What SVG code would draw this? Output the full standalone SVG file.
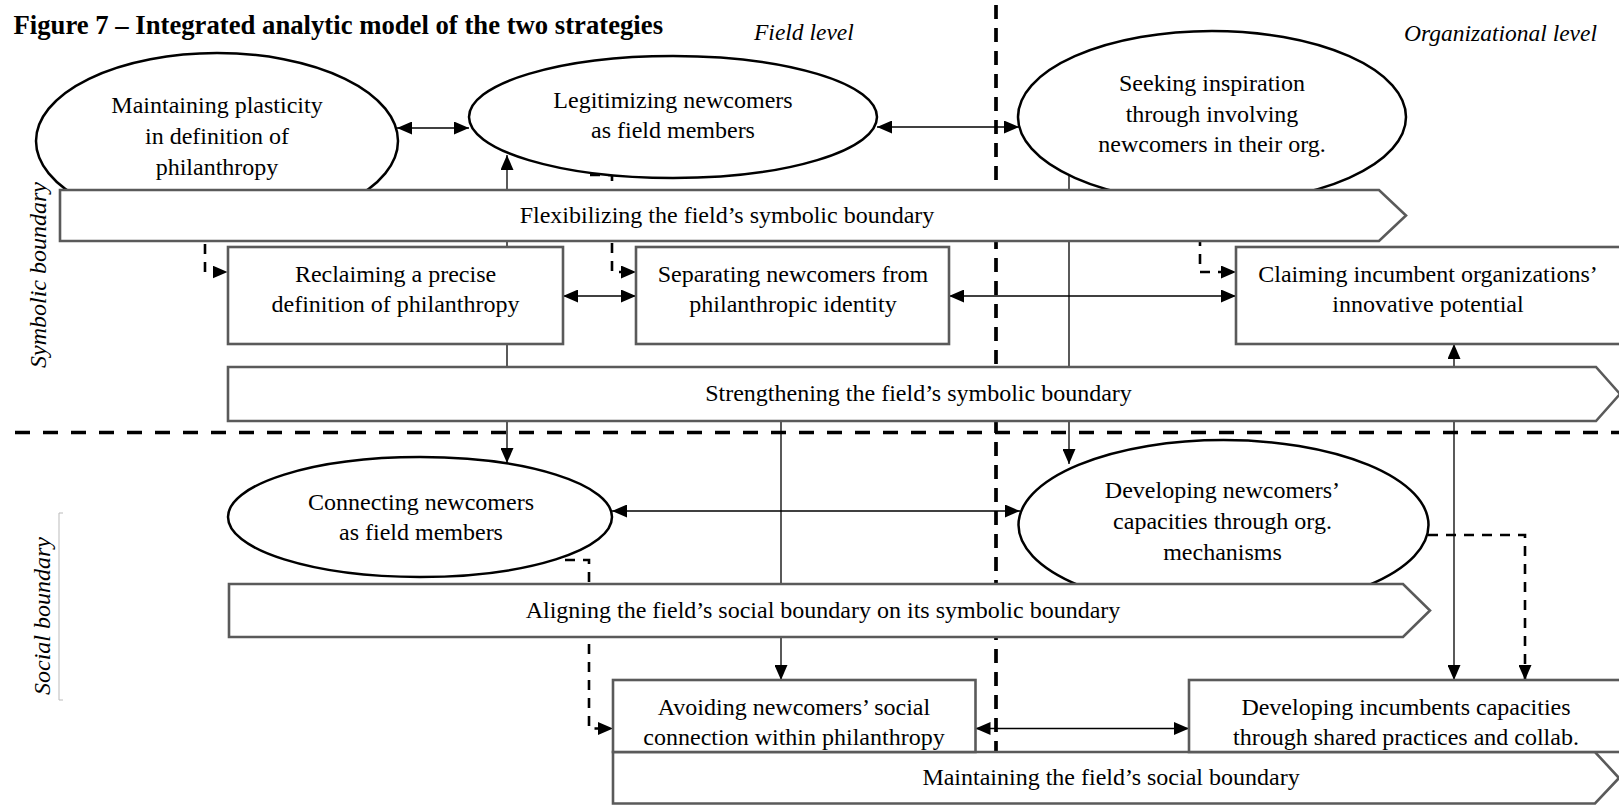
<svg xmlns="http://www.w3.org/2000/svg" width="1619" height="806" viewBox="0 0 1619 806">
<style>
text{font-family:"Liberation Serif","Times New Roman",serif;font-size:24px;fill:#000;text-anchor:middle}
.title{font-weight:bold;font-size:26.7px;text-anchor:start}
.lvl{font-style:italic;font-size:23.5px;text-anchor:start}
.side{font-style:italic;font-size:24px}
.ell{fill:#fff;stroke:#000;stroke-width:2.5}
.box{fill:#fff;stroke:#5a5a5a;stroke-width:2.6}
.conn{fill:none;stroke:#000;stroke-width:1.3}
.dash{fill:none;stroke:#000;stroke-width:2.6;stroke-dasharray:10 8}
.sep{fill:none;stroke:#000;stroke-width:3.7}
</style>
<defs>
<marker id="ah" markerUnits="userSpaceOnUse" markerWidth="15" markerHeight="13" refX="15" refY="6.5" orient="auto-start-reverse">
<path d="M0,0 L15,6.5 L0,13 z" fill="#000"/>
</marker>
</defs>

<g id="labels">
<text class="title" x="13.5" y="33.5">Figure 7 – Integrated analytic model of the two strategies</text>
<text class="lvl" x="754" y="40">Field level</text>
<text class="lvl" x="1404" y="41">Organizational level</text>
<text class="side" transform="translate(46,275) rotate(-90)">Symbolic boundary</text>
<text class="side" transform="translate(50,616) rotate(-90)">Social boundary</text>
<path d="M63,513 H59 V700 H63" fill="none" stroke="#bbb" stroke-width="1"/>
</g>

<g id="separators">
<line class="sep" x1="996" y1="5" x2="996" y2="806" stroke-dasharray="14 9"/>
<line class="sep" x1="15" y1="432.5" x2="1619" y2="432.5" stroke-dasharray="15 13"/>
</g>

<g id="connectors">
<line class="conn" x1="397" y1="128" x2="469" y2="128" marker-start="url(#ah)" marker-end="url(#ah)"/>
<line class="conn" x1="877" y1="127" x2="1019" y2="127" marker-start="url(#ah)" marker-end="url(#ah)"/>
<line class="conn" x1="507" y1="155" x2="507" y2="463" marker-start="url(#ah)" marker-end="url(#ah)"/>
<line class="conn" x1="1069" y1="170" x2="1069" y2="464" marker-end="url(#ah)"/>
<line class="conn" x1="563" y1="296" x2="636" y2="296" marker-start="url(#ah)" marker-end="url(#ah)"/>
<line class="conn" x1="949" y1="296" x2="1236" y2="296" marker-start="url(#ah)" marker-end="url(#ah)"/>
<line class="conn" x1="1454" y1="344" x2="1454" y2="680" marker-start="url(#ah)" marker-end="url(#ah)"/>
<line class="conn" x1="781" y1="421" x2="781" y2="680" marker-end="url(#ah)"/>
<line class="conn" x1="612" y1="511" x2="1020" y2="511" marker-start="url(#ah)" marker-end="url(#ah)"/>
<line class="conn" x1="975.5" y1="728.5" x2="1189" y2="728.5" marker-start="url(#ah)" marker-end="url(#ah)"/>
<path class="dash" d="M205,226 V272 H227.5" marker-end="url(#ah)"/>
<path class="dash" d="M590,175 H612 V272 H636" marker-end="url(#ah)"/>
<path class="dash" d="M1200,200 V272 H1236" marker-end="url(#ah)"/>
<path class="dash" d="M565,560 H589 V728.5 H613" marker-end="url(#ah)"/>
<path class="dash" d="M1428,535 H1525 V680" marker-end="url(#ah)"/>
</g>

<g id="n-plasticity">
<ellipse class="ell" cx="217" cy="141" rx="181" ry="88"/>
<text x="217" y="112.5">Maintaining plasticity</text>
<text x="217" y="143.5">in definition of</text>
<text x="217" y="175">philanthropy</text>
</g>
<g id="n-legitimizing">
<ellipse class="ell" cx="673" cy="117" rx="204" ry="61"/>
<text x="673" y="108">Legitimizing newcomers</text>
<text x="673" y="138">as field members</text>
</g>
<g id="n-seeking">
<ellipse class="ell" cx="1212" cy="117" rx="194" ry="86"/>
<text x="1212" y="91">Seeking inspiration</text>
<text x="1212" y="121.5">through involving</text>
<text x="1212" y="152">newcomers in their org.</text>
</g>
<g id="n-connecting">
<ellipse class="ell" cx="420" cy="517" rx="192" ry="60"/>
<text x="421" y="510">Connecting newcomers</text>
<text x="421" y="540">as field members</text>
</g>
<g id="n-devnew">
<ellipse class="ell" cx="1223.5" cy="525" rx="205" ry="85"/>
<text x="1222.5" y="498">Developing newcomers’</text>
<text x="1222.5" y="529">capacities through org.</text>
<text x="1222.5" y="560">mechanisms</text>
</g>

<g id="n-flex">
<polygon class="box" points="60,190 1379,190 1406,215.5 1379,241 60,241"/>
<text x="727" y="223">Flexibilizing the field’s symbolic boundary</text>
</g>
<g id="n-reclaiming">
<rect class="box" x="228" y="247" width="335" height="97"/>
<text x="395.5" y="282">Reclaiming a precise</text>
<text x="395.5" y="312">definition of philanthropy</text>
</g>
<g id="n-separating">
<rect class="box" x="636" y="247" width="313" height="97"/>
<text x="793" y="282">Separating newcomers from</text>
<text x="793" y="312">philanthropic identity</text>
</g>
<g id="n-claiming">
<rect class="box" x="1236" y="247" width="386" height="97"/>
<text x="1428" y="282">Claiming incumbent organizations’</text>
<text x="1428" y="312">innovative potential</text>
</g>
<g id="n-strength">
<polygon class="box" points="228,367 1596,367 1620,394 1596,421 228,421"/>
<text x="918.5" y="401">Strengthening the field’s symbolic boundary</text>
</g>
<g id="n-aligning">
<polygon class="box" points="229,584 1403,584 1430,610.5 1403,637 229,637"/>
<text x="823" y="618">Aligning the field’s social boundary on its symbolic boundary</text>
</g>
<g id="n-maintaining">
<polygon class="box" points="613,752 1595,752 1619,778 1595,803.5 613,803.5"/>
<text x="1111" y="785">Maintaining the field’s social boundary</text>
</g>
<g id="n-avoiding">
<rect class="box" x="613" y="680" width="362.5" height="72"/>
<text x="794" y="715">Avoiding newcomers’ social</text>
<text x="794" y="745">connection within philanthropy</text>
</g>
<g id="n-devinc">
<rect class="box" x="1189" y="680" width="433" height="72"/>
<text x="1406" y="715">Developing incumbents capacities</text>
<text x="1406" y="745">through shared practices and collab.</text>
</g>
</svg>
